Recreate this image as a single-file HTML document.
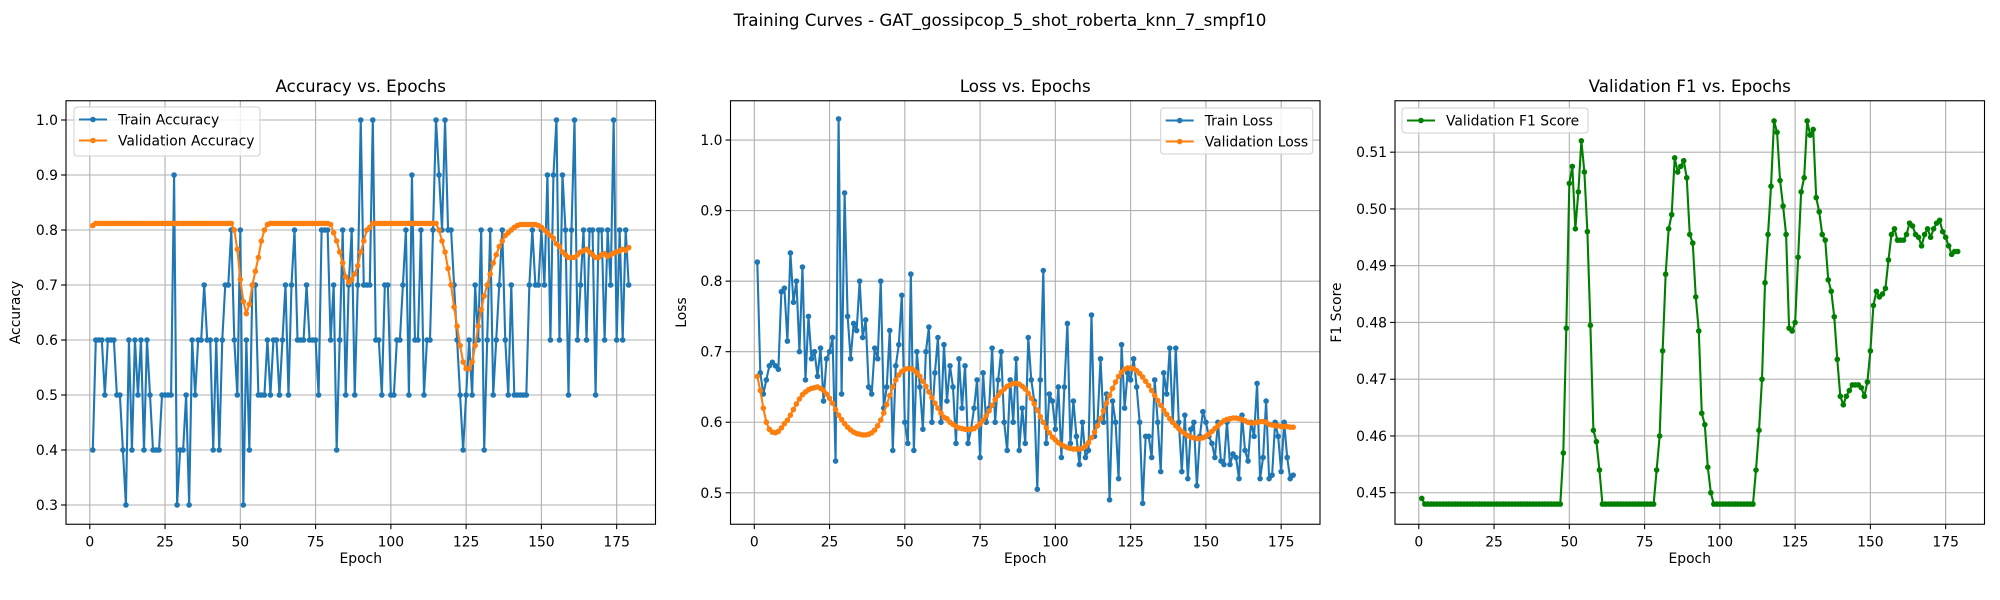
<!DOCTYPE html>
<html><head><meta charset="utf-8"><style>
html,body{margin:0;padding:0;background:#fff;}
svg{display:block;font-family:"DejaVu Sans","Liberation Sans",sans-serif;}
</style></head><body>
<svg id="fig" width="2000" height="600" viewBox="0 0 2000 600" xmlns="http://www.w3.org/2000/svg">
<rect x="0" y="0" width="2000" height="600" fill="#fff"/>
<text x="1000" y="26" font-size="16.7" text-anchor="middle">Training Curves - GAT_gossipcop_5_shot_roberta_knn_7_smpf10</text>
</svg>
<script>
const epochs = [];
for (let i = 1; i <= 179; i++) epochs.push(i);
const xTicks = [0,25,50,75,100,125,150,175];
const accTicks = ["0.3","0.4","0.5","0.6","0.7","0.8","0.9","1.0"];
const lossTicks = ["0.5","0.6","0.7","0.8","0.9","1.0"];
const f1Ticks = ["0.45","0.46","0.47","0.48","0.49","0.50","0.51"];
const trainAcc = [.4,.6,.6,.6,.5,.6,.6,.6,.5,.5,
.4,.3,.6,.4,.6,.5,.6,.4,.6,.5,
.4,.4,.4,.5,.5,.5,.5,.9,.3,.4,
.4,.5,.3,.6,.5,.6,.6,.7,.6,.6,
.4,.6,.4,.6,.7,.7,.8,.6,.5,.8,
.3,.6,.4,.7,.7,.5,.5,.5,.6,.5,
.6,.6,.5,.6,.7,.5,.7,.8,.6,.6,
.6,.7,.6,.6,.6,.5,.8,.8,.8,.6,
.7,.4,.6,.8,.5,.7,.8,.5,.7,1.0,
.7,.7,.7,1.0,.6,.6,.5,.7,.7,.5,
.5,.6,.6,.7,.8,.5,.9,.6,.6,.8,
.5,.6,.6,.8,1.0,.9,.8,1.0,.8,.8,
.7,.6,.5,.4,.5,.6,.5,.7,.6,.8,
.4,.6,.8,.5,.6,.7,.8,.6,.5,.7,
.5,.5,.5,.5,.5,.7,.8,.7,.7,.8,
.7,.9,.6,.9,1.0,.6,.9,.8,.5,.8,
1.0,.6,.7,.8,.6,.8,.8,.5,.8,.8,
.6,.8,.7,1.0,.6,.8,.6,.8,.7];
const valAcc = [.808,
.812,.812,.812,.812,.812,.812,.812,.812,.812,.812,.812,.812,.812,.812,.812,.812,.812,.812,.812,.812,.812,.812,.812,.812,.812,.812,.812,.812,.812,.812,.812,.812,.812,.812,.812,.812,.812,.812,.812,.812,.812,.812,.812,.812,.812,.812,
.8,.765,.71,.67,.648,.665,.7,.725,.75,.78,.8,.81,
.812,.812,.812,.812,.812,.812,.812,.812,.812,.812,.812,.812,.812,.812,.812,.812,.812,.812,.812,.812,
.81,.795,.78,.76,.74,.715,.705,.71,.72,.735,.76,.78,.8,.805,
.812,.812,.812,.812,.812,.812,.812,.812,.812,.812,.812,.812,.812,.812,.812,.812,.812,.812,.812,.812,.812,.812,
.8,.78,.76,.73,.7,.66,.625,.59,.56,.548,.548,.56,.59,.625,.655,.68,.7,.72,.74,.755,.77,.78,.79,.795,.8,.805,.808,.81,.81,.81,.81,.81,.81,.808,.805,.8,.795,.79,.785,.775,.77,.76,.755,.75,.75,.75,.755,.76,.762,.765,.76,.755,.75,.75,.755,.757,.752,.755,.758,.76,.762,.765,.763,.768];
const trainLoss = [.827,.67,.64,.66,.68,.685,.68,.675,.785,.79,
.715,.84,.77,.8,.7,.82,.66,.75,.69,.7,
.665,.705,.63,.69,.7,.72,.545,1.03,.64,.925,
.75,.69,.74,.73,.8,.72,.745,.65,.64,.705,
.69,.8,.62,.65,.73,.56,.68,.71,.78,.6,
.57,.81,.56,.7,.65,.59,.7,.735,.6,.67,
.72,.6,.71,.63,.68,.65,.57,.69,.62,.68,
.57,.59,.62,.66,.55,.67,.6,.62,.705,.6,
.66,.7,.6,.56,.66,.6,.69,.56,.62,.57,
.72,.66,.63,.505,.66,.815,.57,.64,.63,.59,
.65,.55,.65,.74,.57,.63,.58,.54,.6,.55,
.56,.752,.58,.6,.69,.6,.64,.49,.63,.6,
.52,.71,.62,.67,.66,.69,.65,.6,.485,.58,
.58,.55,.66,.6,.53,.67,.64,.705,.6,.705,
.6,.53,.61,.52,.59,.6,.51,.58,.615,.6,
.58,.57,.55,.6,.545,.54,.6,.54,.555,.55,
.52,.61,.56,.545,.6,.58,.655,.52,.55,.63,
.52,.525,.6,.58,.53,.6,.55,.52,.525];
const valLoss = [.665,.645,.62,.6,.59,.586,.585,.587,.592,.598,
.603,.61,.618,.626,.633,.639,.643,.646,.648,.649,
.65,.648,.645,.64,.634,.627,.618,.61,.604,.598,
.593,.589,.586,.584,.583,.582,.582,.583,.585,.589,
.595,.603,.613,.625,.638,.65,.66,.667,.672,.675,
.676,.676,.674,.67,.665,.658,.651,.643,.635,.627,
.62,.613,.607,.605,.6,.597,.594,.592,.591,.59,
.59,.59,.591,.594,.598,.603,.609,.616,.624,.632,
.638,.643,.647,.651,.653,.655,.655,.654,.651,.647,
.641,.634,.626,.617,.608,.6,.592,.585,.579,.575,
.571,.568,.566,.564,.563,.562,.562,.562,.563,.566,
.571,.578,.586,.595,.605,.616,.627,.638,.648,.657,
.665,.671,.675,.677,.677,.676,.673,.669,.664,.658,
.652,.645,.638,.631,.624,.617,.611,.605,.6,.595,
.591,.587,.584,.581,.579,.578,.577,.577,.578,.58,
.583,.587,.591,.595,.599,.602,.604,.605,.606,.606,
.605,.604,.602,.6,.599,.599,.6,.601,.601,.6,
.597,.596,.595,.595,.594,.594,.594,.593,.593];
const valF1 = [.449,
.448,.448,.448,.448,.448,.448,.448,.448,.448,.448,.448,.448,.448,.448,.448,.448,.448,.448,.448,.448,.448,.448,.448,.448,.448,.448,.448,.448,.448,.448,.448,.448,.448,.448,.448,.448,.448,.448,.448,.448,.448,.448,.448,.448,.448,.448,
.457,.479,.5045,.5075,.4965,.503,.512,.5065,.496,.4795,.461,.459,.454,
.448,.448,.448,.448,.448,.448,.448,.448,.448,.448,.448,.448,.448,.448,.448,.448,.448,.448,
.454,.46,.475,.4885,.4965,.499,.509,.5065,.5075,.5085,.5055,.4955,.494,.4845,.4785,.464,.462,.4545,.45,
.448,.448,.448,.448,.448,.448,.448,.448,.448,.448,.448,.448,.448,.448,
.454,.461,.47,.487,.4955,.504,.5155,.5135,.505,.5005,.4955,.479,.4785,.48,.4915,.503,.5055,.5155,.513,.514,.502,.4995,.4955,.4945,.4875,.4855,.481,.4735,.467,.4655,.467,.468,.469,.469,.469,.4685,.467,.4695,.475,.483,.4855,.4845,.485,.486,.491,.4955,.4965,.4945,.4945,.4945,.4955,.4975,.497,.4955,.495,.4935,.4955,.4965,.495,.4965,.4975,.498,.496,.495,.4935,.492,.4925,.4925];

const NS = "http://www.w3.org/2000/svg";
const fig = document.getElementById("fig");
function mk(tag, attrs, parent){ const e=document.createElementNS(NS,tag); for(const k in attrs) e.setAttribute(k,attrs[k]); (parent||fig).appendChild(e); return e; }

const TOP=100.75, BOT=524.25, W=589.5, XMIN=-7.9, XMAX=187.9;
function makeX(left){ return e => left + (e - XMIN) / (XMAX - XMIN) * W; }
function makeY(lo, hi){ return v => BOT - (v - lo) / (hi - lo) * (BOT - TOP); }

const panels = [
 {left:66, name:"accuracy", title:"Accuracy vs. Epochs", ylabel:"Accuracy", ylx:20, lo:0.265, hi:1.035, ticks:accTicks,
  series:[{name:"train-accuracy", data:trainAcc, color:"#1f77b4", label:"Train Accuracy"},{name:"validation-accuracy", data:valAcc, color:"#ff7f0e", label:"Validation Accuracy"}],
  legend:{x:74, y:107, w:186, h:49}},
 {left:730.5, name:"loss", title:"Loss vs. Epochs", ylabel:"Loss", ylx:686, lo:0.4554, hi:1.0557, ticks:lossTicks,
  series:[{name:"train-loss", data:trainLoss, color:"#1f77b4", label:"Train Loss"},{name:"validation-loss", data:valLoss, color:"#ff7f0e", label:"Validation Loss"}],
  legend:{x:1160.7, y:108, w:152, h:46}},
 {left:1395, name:"f1", title:"Validation F1 vs. Epochs", ylabel:"F1 Score", ylx:1341, lo:0.44445, hi:0.51906, ticks:f1Ticks,
  series:[{name:"validation-f1", data:valF1, color:"#008000", label:"Validation F1 Score"}],
  legend:{x:1402, y:108, w:186, h:25}}
];

panels.forEach(p => {
  const X = makeX(p.left), Y = makeY(p.lo, p.hi);
  const g = mk("g", {});
  
  
  // grid
  xTicks.forEach(t => {
    const l = mk("line", {x1:X(t), x2:X(t), y1:TOP, y2:BOT, stroke:"#b0b0b0", "stroke-width":1.1}, g);
    
    
    const tk = mk("line", {x1:X(t), x2:X(t), y1:BOT, y2:BOT+4.9, stroke:"#000", "stroke-width":1.1}, g);
    
    
    const tx = mk("text", {x:X(t), y:BOT+22, "font-size":13.9, "text-anchor":"middle", fill:"#000"}, g);
    
    
    tx.textContent = t;
  });
  p.ticks.forEach(t => {
    const v = parseFloat(t);
    const l = mk("line", {x1:p.left, x2:p.left+W, y1:Y(v), y2:Y(v), stroke:"#b0b0b0", "stroke-width":1.1}, g);
    
    
    const tk = mk("line", {x1:p.left-4.9, x2:p.left, y1:Y(v), y2:Y(v), stroke:"#000", "stroke-width":1.1}, g);
    
    
    const tx = mk("text", {x:p.left-8, y:Y(v)+5, "font-size":13.9, "text-anchor":"end", fill:"#000"}, g);
    
    
    tx.textContent = t;
  });
  // series
  p.series.forEach(s => {
    const sg = mk("g", {}, g);
    
    
    const pts = s.data.map((v,i) => X(epochs[i]).toFixed(2) + "," + Y(v).toFixed(2)).join(" ");
    const pl = mk("polyline", {points:pts, fill:"none", stroke:s.color, "stroke-width":2.1, "stroke-linejoin":"round"}, sg);
    
    
    s.data.forEach((v,i) => {
      const c = mk("circle", {cx:X(epochs[i]), cy:Y(v), r:2.8, fill:s.color}, sg);
      
      
    });
  });
  // frame
  const fr = mk("rect", {x:p.left, y:TOP, width:W, height:BOT-TOP, fill:"none", stroke:"#000", "stroke-width":1.1}, g);
  
  
  const ti = mk("text", {x:p.left+W/2, y:92, "font-size":16.7, "text-anchor":"middle"}, g);
  
  
  ti.textContent = p.title;
  const xl = mk("text", {x:p.left+W/2, y:563, "font-size":13.9, "text-anchor":"middle"}, g);
  
  
  xl.textContent = "Epoch";
  const cy = (TOP+BOT)/2;
  const yl = mk("text", {x:p.ylx, y:cy, "font-size":13.9, "text-anchor":"middle", transform:`rotate(-90 ${p.ylx} ${cy})`}, g);
  
  
  yl.textContent = p.ylabel;
  // legend
  const L = p.legend;
  const lg = mk("g", {}, g);
  
  
  mk("rect", {x:L.x, y:L.y, width:L.w, height:L.h, rx:3, fill:"#fff", "fill-opacity":0.8, stroke:"#d0d0d0", "stroke-width":1}, lg);
  p.series.forEach((s,k) => {
    const yy = L.y + 12.5 + k*21;
    const e = mk("g", {}, lg);
    
    
    mk("line", {x1:L.x+5, x2:L.x+33, y1:yy, y2:yy, stroke:s.color, "stroke-width":2.1}, e);
    mk("circle", {cx:L.x+19, cy:yy, r:2.8, fill:s.color}, e);
    const t = mk("text", {x:L.x+44, y:yy+5, "font-size":13.9}, e);
    t.textContent = s.label;
  });
});
</script>
</body></html>
